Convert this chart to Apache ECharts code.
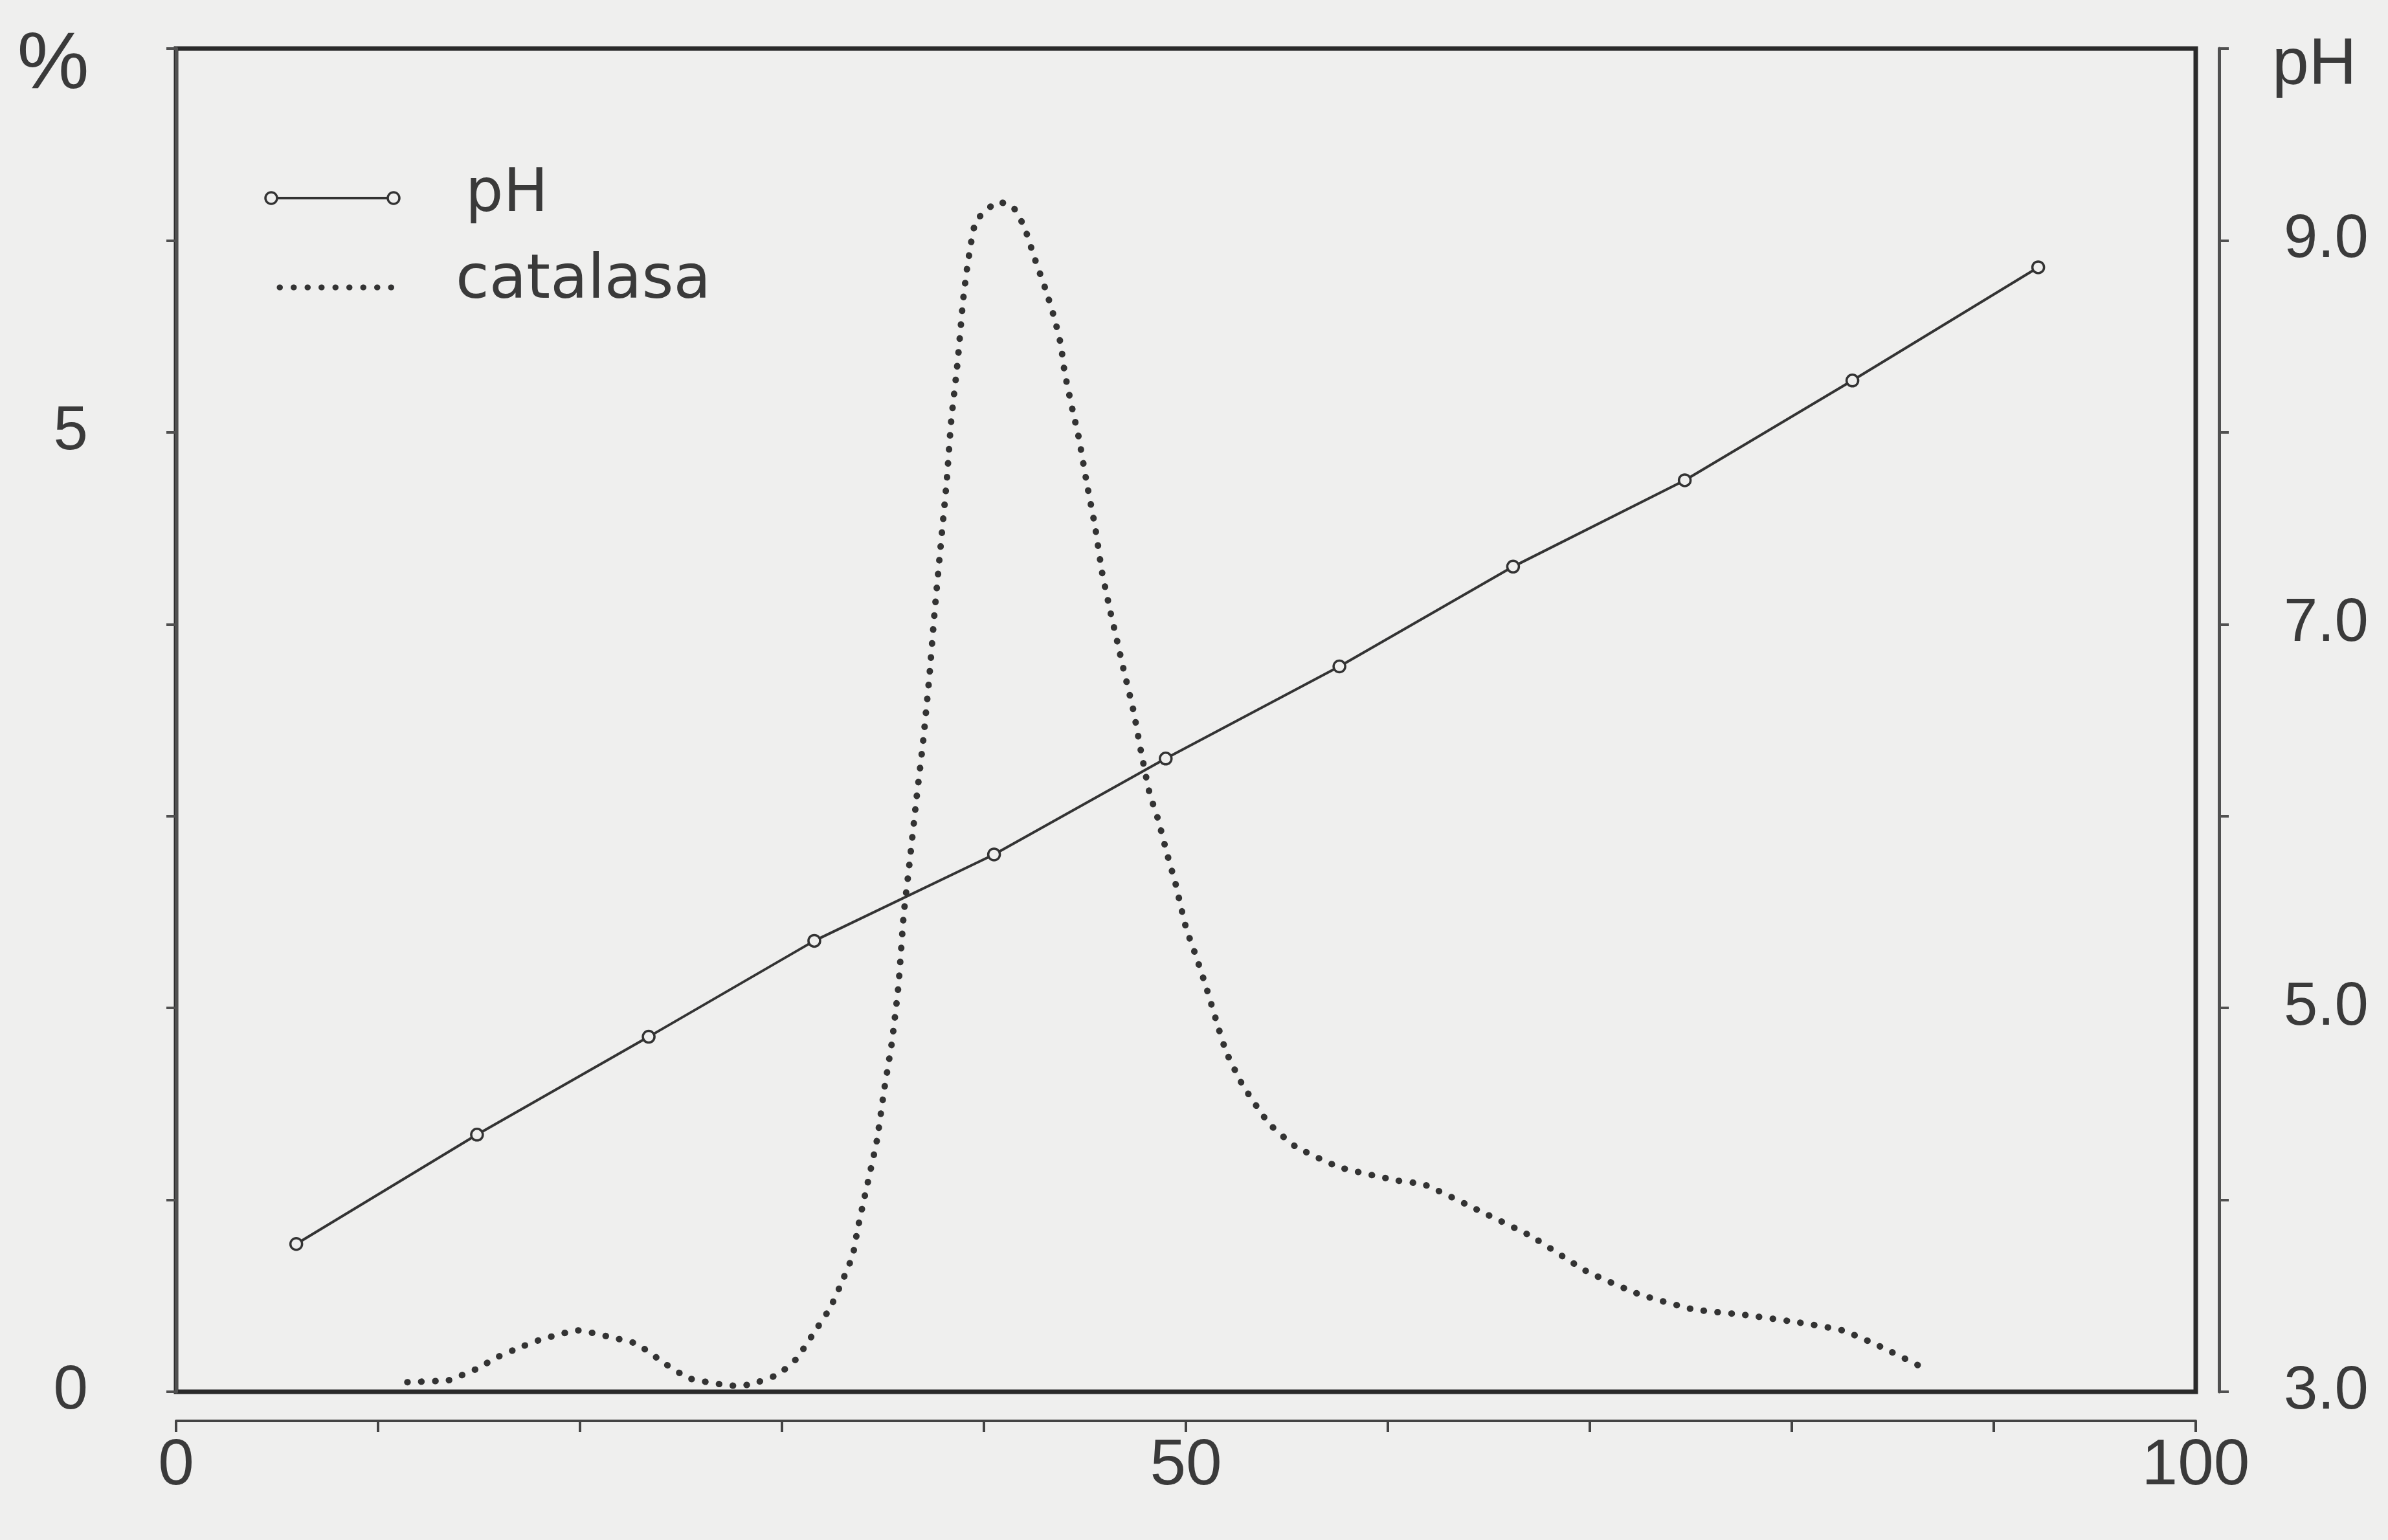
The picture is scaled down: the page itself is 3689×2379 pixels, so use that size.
<!DOCTYPE html>
<html>
<head>
<meta charset="utf-8">
<script src="https://cdn.jsdelivr.net/npm/echarts@6/dist/echarts.min.js"></script>
<style>
html,body{margin:0;padding:0;background:#efefee;}
#chart{width:3689px;height:2379px;}
</style>
</head>
<body>
<div id="chart"></div>
<script>
// ---- data ----
const phX = [5.95, 14.9, 23.4, 31.6, 40.5, 49.0, 57.6, 66.2, 74.7, 83.0, 92.2];
const phY = [3.77, 4.34, 4.85, 5.35, 5.80, 6.30, 6.78, 7.30, 7.75, 8.27, 8.86];

const catX = [11.45, 13.5, 14.0, 14.9, 15.9, 17.0, 18.0, 19.9, 21.7, 22.8, 24.3, 25.4, 26.9, 27.8, 28.5,
  29.8, 30.7, 31.6, 32.4, 33.0, 33.5, 33.75, 34.1, 34.7, 35.07, 35.44, 35.77, 36.03, 36.29, 36.67,
  36.98, 37.3, 37.57, 37.85, 38.16, 38.37, 38.7, 38.97, 39.2, 39.6, 40.7, 41.4, 42.0, 42.5, 43.1,
  43.5, 43.8, 44.0, 44.4, 44.7, 45.1, 45.5, 45.85, 46.27, 46.6, 46.9, 47.4, 47.77, 48.2, 48.63,
  49.05, 49.48, 50.0, 50.5, 51.0, 51.6, 52.0, 52.8, 54.1, 55.4, 57.6, 60.5, 61.8, 64.4, 67.1,
  69.8, 72.4, 75.1, 77.7, 80.4, 82.5, 84.3, 86.6];
const catY = [0.05, 0.06, 0.08, 0.12, 0.18, 0.23, 0.27, 0.32, 0.28, 0.25, 0.14, 0.07, 0.04, 0.03, 0.04,
  0.09, 0.17, 0.31, 0.44, 0.58, 0.71, 0.85, 1.02, 1.31, 1.58, 1.82, 2.12, 2.49, 2.73, 3.10,
  3.38, 3.73, 4.08, 4.40, 4.75, 5.05, 5.37, 5.69, 5.88, 6.10, 6.20, 6.18, 6.07, 5.91, 5.73,
  5.59, 5.46, 5.31, 5.11, 4.97, 4.73, 4.51, 4.27, 4.06, 3.91, 3.77, 3.55, 3.34, 3.12, 2.98,
  2.81, 2.65, 2.42, 2.27, 2.11, 1.90, 1.77, 1.60, 1.40, 1.28, 1.17, 1.10, 1.08, 0.95, 0.81,
  0.63, 0.51, 0.43, 0.40, 0.36, 0.32, 0.24, 0.12];

const xTickLabels = ['0', '50', '100'];
const pctTickLabels = ['0', '5'];
const phTickLabels = ['3.0', '5.0', '7.0', '9.0'];
const legendLabels = ['pH', 'catalasa'];
const axisNames = ['%', 'pH'];

// ---- chart ----
const INK = '#2a2a2a';
const TXT = '#3a3a3a';
const BG = '#efefee';
const numFont = '"Liberation Sans", Arial, sans-serif';
const legFont = '"DejaVu Sans", sans-serif';

const chart = echarts.init(document.getElementById('chart'), null, {renderer: 'canvas'});

const option = {
  backgroundColor: BG,
  animation: false,
  grid: {
    left: 272, right: 297, top: 75, bottom: 229,
    show: true, borderColor: INK, borderWidth: 7, backgroundColor: 'transparent'
  },
  xAxis: {
    type: 'value', min: 0, max: 100, interval: 10, position: 'bottom', offset: 45,
    axisLine: {show: true, onZero: false, lineStyle: {color: '#444', width: 4}},
    axisTick: {show: true, inside: false, length: 17, lineStyle: {color: '#444', width: 4}},
    splitLine: {show: false},
    axisLabel: {
      margin: 20, fontSize: 100, fontFamily: numFont, color: TXT,
      formatter: v => xTickLabels.includes(String(v)) ? String(v) : ''
    }
  },
  yAxis: [
    {
      type: 'value', min: 0, max: 7, interval: 1, position: 'left', offset: 36,
      axisLine: {show: true, lineStyle: {color: '#505050', width: 5}},
      axisTick: {show: true, inside: false, length: 15, lineStyle: {color: '#505050', width: 4}},
      splitLine: {show: false},
      axisLabel: {
        margin: 100, fontSize: 96, fontFamily: numFont, color: TXT,
        formatter: v => pctTickLabels.includes(String(v)) ? String(v) : ''
      }
    },
    {
      type: 'value', min: 3, max: 10, interval: 1, position: 'right', offset: 36,
      axisLine: {show: true, lineStyle: {color: '#505050', width: 5}},
      axisTick: {show: true, inside: false, length: 15, lineStyle: {color: '#505050', width: 4}},
      splitLine: {show: false},
      axisLabel: {
        margin: 100, fontSize: 94, fontFamily: numFont, color: TXT,
        formatter: v => { const s = v.toFixed(1); return phTickLabels.includes(s) ? s : ''; }
      }
    }
  ],
  series: [
    {
      name: legendLabels[1], type: 'line', yAxisIndex: 0,
      data: catX.map((x, i) => [x, catY[i]]),
      showSymbol: false, smooth: 0.15,
      lineStyle: {color: '#333', width: 10, type: [0.5, 21], cap: 'round'},
      z: 3
    },
    {
      name: legendLabels[0], type: 'line', yAxisIndex: 1,
      data: phX.map((x, i) => [x, phY[i]]),
      symbol: 'circle', symbolSize: 18, showSymbol: true,
      lineStyle: {color: '#333', width: 4},
      itemStyle: {color: BG, borderColor: '#333', borderWidth: 3.5},
      z: 4
    }
  ],
  graphic: [
    {type: 'text', x: 82, y: 102, style: {text: axisNames[0], font: '125px ' + numFont, fill: TXT, align: 'center', verticalAlign: 'middle'}},
    {type: 'text', x: 3510, y: 102, style: {text: axisNames[1], font: '102px ' + numFont, fill: TXT, align: 'left', verticalAlign: 'middle'}},
    // legend
    {type: 'line', shape: {x1: 419, y1: 306, x2: 608, y2: 306}, style: {stroke: '#333', lineWidth: 4}},
    {type: 'circle', shape: {cx: 419, cy: 306, r: 9}, style: {fill: BG, stroke: '#333', lineWidth: 3.5}},
    {type: 'circle', shape: {cx: 608, cy: 306, r: 9}, style: {fill: BG, stroke: '#333', lineWidth: 3.5}},
    {type: 'text', x: 719, y: 302, style: {text: legendLabels[0], font: '92px ' + legFont, fill: TXT, align: 'left', verticalAlign: 'middle'}},
    {type: 'line', shape: {x1: 432, y1: 444, x2: 624, y2: 444}, style: {stroke: '#333', lineWidth: 9, lineDash: [0.5, 21], lineCap: 'round'}},
    {type: 'text', x: 704, y: 436, style: {text: legendLabels[1], font: '94px ' + legFont, fill: TXT, align: 'left', verticalAlign: 'middle'}}
  ]
};
chart.setOption(option);
</script>
</body>
</html>
